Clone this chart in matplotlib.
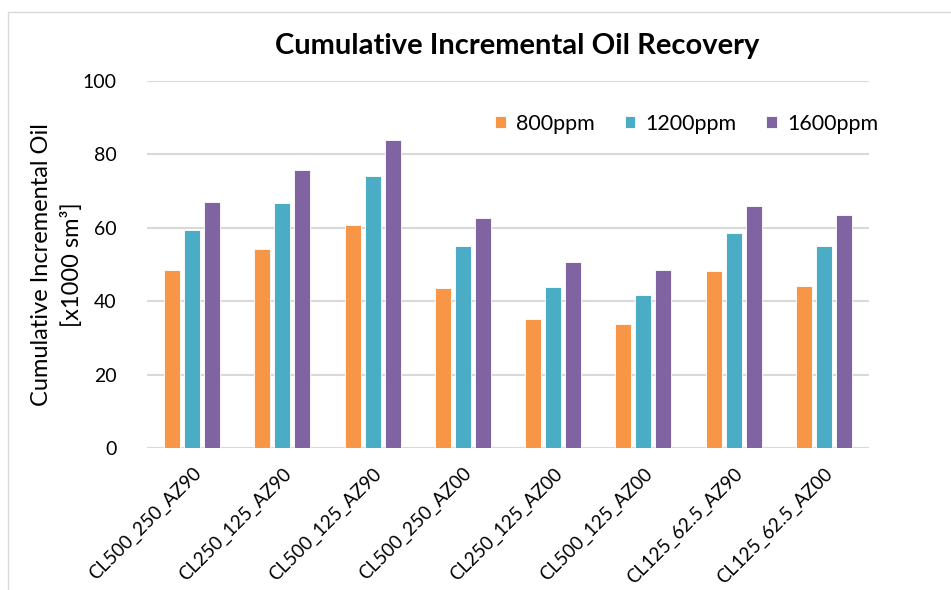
import matplotlib
matplotlib.use("Agg")
import matplotlib.pyplot as plt
import numpy as np
from matplotlib.patches import Rectangle

categories = ["CL500_250_AZ90", "CL250_125_AZ90", "CL500_125_AZ90", "CL500_250_AZ00",
              "CL250_125_AZ00", "CL500_125_AZ00", "CL125_62.5_AZ90", "CL125_62.5_AZ00"]
series_names = ["800ppm", "1200ppm", "1600ppm"]
vals_800 = [48.4, 54.2, 60.7, 43.6, 35.1, 33.7, 48.2, 44.1]
vals_1200 = [59.3, 66.7, 74.0, 55.0, 43.9, 41.7, 58.5, 55.0]
vals_1600 = [67.0, 75.7, 83.8, 62.8, 50.6, 48.4, 65.9, 63.4]
yticks = [0, 20, 40, 60, 80, 100]
colors = ["#F79646", "#4BACC6", "#8064A2"]

plt.rcParams["font.family"] = ["Lato", "DejaVu Sans"]

W, H = 951, 590
fig = plt.figure(figsize=(W / 100, H / 100), dpi=100)
ax = fig.add_axes([147 / W, 1 - 448 / H, (869 - 147) / W, (448 - 81) / H])

# chart frame
fig.patches.append(Rectangle((8 / W, -0.1), 1.2, 1 - 12 / H + 0.1, transform=fig.transFigure,
                             fill=False, edgecolor="#D9D9D9", linewidth=1.0))

x = np.arange(len(categories))
bw = 0.177
step = 0.222
for i, (vals, name, c) in enumerate(zip([vals_800, vals_1200, vals_1600], series_names, colors)):
    ax.bar(x + (i - 1) * step, vals, width=bw, color=c, edgecolor="white", linewidth=0.6,
           label=name, zorder=3)

ax.set_xlim(-0.5, len(categories) - 0.5)
ax.set_ylim(0, 100)
ax.set_yticks(yticks)
ax.set_yticklabels([str(v) for v in yticks], fontsize=14)
ax.yaxis.grid(True, color="#D9D9D9", linewidth=1.5, zorder=0)
ax.set_axisbelow(True)
for s in ["top", "right", "left", "bottom"]:
    ax.spines[s].set_visible(False)
ax.tick_params(axis="y", length=0, pad=22)
ax.tick_params(axis="x", length=0, pad=12)
ax.set_xticks(x)
ax.set_xticklabels(categories, rotation=45, ha="right", rotation_mode="anchor", fontsize=13.5)

# two-line y axis title
fig.text(57 / W, 1 - 265 / H, "Cumulative Incremental Oil\n[x1000 sm³]", rotation=90,
         ha="center", va="center", fontsize=17, linespacing=1.55, multialignment="center")

fig.text(517 / W, 1 - 46 / H, "Cumulative Incremental Oil Recovery", ha="center", va="center",
         fontsize=21, fontweight="bold")

ax.legend(loc="center right", bbox_to_anchor=(878 / W, 1 - 124 / H), bbox_transform=fig.transFigure,
          ncol=3, frameon=False, fontsize=15.5, handlelength=0.5, handleheight=0.5,
          handletextpad=0.45, columnspacing=1.4, borderaxespad=0, borderpad=0)

fig.savefig("out.png", dpi=100)
